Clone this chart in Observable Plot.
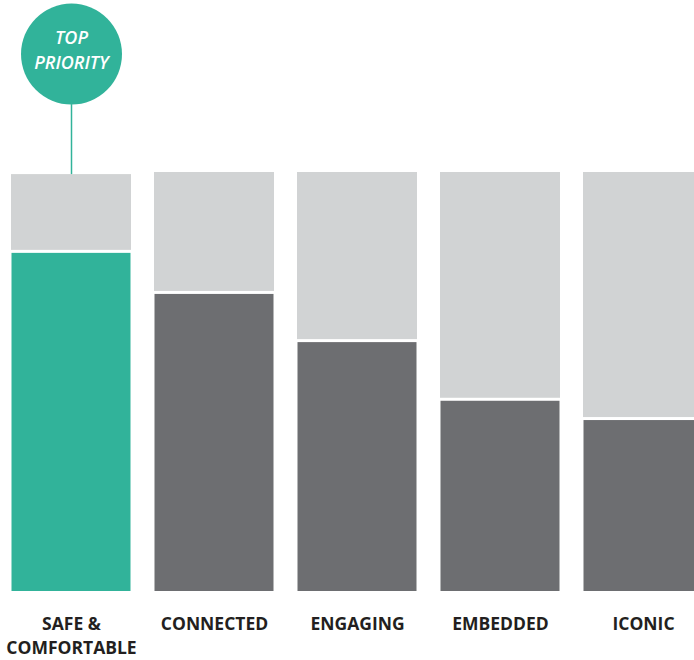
<!DOCTYPE html>
<html>
<head>
<meta charset="utf-8">
<script src="https://cdn.jsdelivr.net/npm/d3@7"></script>
<script src="https://cdn.jsdelivr.net/npm/@observablehq/plot@0.6"></script>
<style>
  html, body { margin: 0; padding: 0; background: #fff; overflow: hidden; }
  #chart svg { display: block; }
</style>
</head>
<body>
<div id="chart"></div>
<script>
const categories = ["SAFE &\nCOMFORTABLE", "CONNECTED", "ENGAGING", "EMBEDDED", "ICONIC"];
const totals = [99.5, 100, 100, 100, 100];
const values = [80.7, 70.9, 59.4, 45.4, 40.8];
const highlight = [true, false, false, false, false];
const badgeText = "TOP\nPRIORITY";

const TEAL = "#31b39a";
const LIGHT = "#d1d3d4";
const DARK = "#6d6e71";

const rows = categories.map((c, i) => ({
  cat: c, total: totals[i], value: values[i], hi: highlight[i]
}));
const topRows = rows.filter(d => d.hi);

const chart = Plot.plot({
  width: 694,
  height: 660,
  marginLeft: 11,
  marginRight: -9,
  marginTop: 172,
  marginBottom: 69,
  x: {type: "band", domain: categories, paddingInner: 23 / 143, paddingOuter: 0, axis: null},
  y: {domain: [0, 100], axis: null},
  style: {fontFamily: "'Open Sans', sans-serif", background: "#fff"},
  marks: [
    Plot.barY(rows, {x: "cat", y1: "value", y2: "total", fill: LIGHT, insetBottom: 3}),
    Plot.barY(rows, {x: "cat", y1: 0, y2: "value", fill: d => d.hi ? TEAL : DARK, insetLeft: 0.5, insetRight: 0.5}),
    Plot.ruleX(topRows, {x: "cat", y1: "total", y2: "total", insetTop: -70, stroke: TEAL, strokeWidth: 1.5}),
    Plot.dot(topRows, {x: "cat", y: "total", dy: -120.5, r: 50.5, fill: TEAL, stroke: "none"}),
    Plot.text(topRows, {x: "cat", y: "total", text: () => badgeText, dy: -126, lineAnchor: "middle",
      fill: "#fff", fontSize: 18, fontStyle: "italic", fontWeight: 600, lineHeight: 24.5 / 18}),
    Plot.text(rows, {x: "cat", text: "cat", frameAnchor: "bottom", lineAnchor: "top", dy: 22,
      fill: "#231f20", fontSize: 17.5, fontWeight: 700, lineHeight: 23.5 / 17.5})
  ]
});
document.getElementById("chart").appendChild(chart);
</script>
</body>
</html>
